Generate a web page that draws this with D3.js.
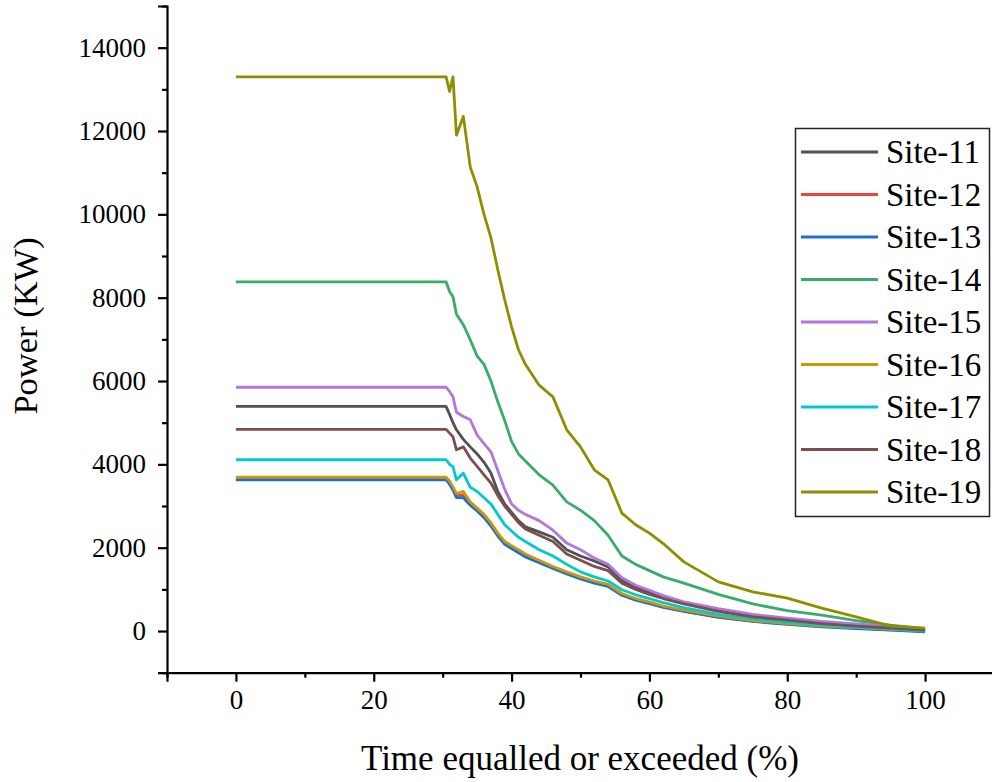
<!DOCTYPE html>
<html>
<head>
<meta charset="utf-8">
<script src="https://cdn.jsdelivr.net/npm/d3@7"></script>
<style>
  body { margin: 0; background: #fff; }
  text { font-family: "Liberation Serif", "Times New Roman", serif; }
</style>
</head>
<body>
<div id="root"></div>
<script>
// time equalled or exceeded (%)
var pct = [0, 30.5, 31, 31.5, 32, 33, 34, 35, 36, 37, 38, 39, 40, 41, 42, 44, 46, 48, 50, 52, 54, 56, 58, 60, 62, 65, 70, 75, 80, 85, 90, 95, 100];

var sites = ["Site-11", "Site-12", "Site-13", "Site-14", "Site-15", "Site-16", "Site-17", "Site-18", "Site-19"];
var colors = ["#515151", "#F14040", "#1A6FDF", "#37AD6B", "#B177DE", "#CC9900", "#00CBCC", "#7D4E4E", "#8E8E00"];

// power (KW) at each pct value
var site11 = [5390, 5390, 5200, 5000, 4830, 4600, 4420, 4250, 4050, 3790, 3350, 3050, 2850, 2650, 2500, 2380, 2250, 1950, 1800, 1680, 1540, 1220, 1050, 940, 820, 680, 500, 370, 280, 200, 140, 80, 20];
var site12 = [3660, 3660, 3560, 3420, 3250, 3270, 3060, 2910, 2760, 2560, 2310, 2110, 2010, 1910, 1810, 1670, 1520, 1390, 1270, 1170, 1090, 880, 760, 680, 580, 480, 340, 240, 170, 110, 70, 30, -10];
var site13 = [3630, 3630, 3520, 3380, 3200, 3200, 3020, 2880, 2720, 2520, 2280, 2080, 1980, 1880, 1780, 1640, 1500, 1370, 1250, 1150, 1070, 860, 740, 660, 570, 470, 330, 230, 160, 100, 60, 20, -20];
var site14 = [8380, 8380, 8150, 8020, 7600, 7350, 6990, 6600, 6400, 6000, 5500, 5050, 4550, 4250, 4080, 3750, 3500, 3100, 2900, 2650, 2300, 1800, 1600, 1450, 1300, 1150, 880, 650, 490, 380, 250, 140, 60];
var site15 = [5850, 5850, 5750, 5620, 5250, 5150, 5070, 4700, 4500, 4300, 3850, 3400, 3050, 2900, 2800, 2650, 2420, 2110, 1950, 1750, 1600, 1280, 1100, 980, 850, 700, 540, 400, 310, 230, 170, 110, 30];
var site16 = [3690, 3690, 3600, 3460, 3300, 3350, 3100, 2950, 2800, 2600, 2350, 2150, 2050, 1950, 1850, 1700, 1550, 1420, 1300, 1200, 1120, 900, 780, 700, 600, 500, 360, 250, 180, 120, 80, 40, 10];
var site17 = [4110, 4110, 4000, 3940, 3630, 3790, 3450, 3350, 3200, 3050, 2800, 2550, 2400, 2250, 2150, 1950, 1800, 1600, 1420, 1300, 1200, 990, 870, 780, 680, 560, 400, 290, 210, 140, 90, 50, 0];
var site18 = [4840, 4840, 4750, 4660, 4350, 4420, 4150, 3950, 3750, 3550, 3250, 3000, 2800, 2600, 2450, 2300, 2150, 1850, 1700, 1550, 1450, 1150, 1000, 880, 780, 650, 470, 340, 260, 180, 120, 70, 20];
var site19 = [13300, 13300, 12950, 13300, 11900, 12350, 11140, 10660, 10000, 9440, 8670, 7950, 7300, 6750, 6400, 5900, 5620, 4830, 4420, 3870, 3630, 2830, 2550, 2350, 2100, 1660, 1180, 940, 790, 550, 340, 120, 70];

var series = [site11, site12, site13, site14, site15, site16, site17, site18, site19];

var xMajor = [0, 20, 40, 60, 80, 100];
var yMajor = [0, 2000, 4000, 6000, 8000, 10000, 12000, 14000];

var width = 992, height = 782;

var svg = d3.select("#root")
    .append("svg")
    .attr("width", width)
    .attr("height", height);

var x = d3.scaleLinear().domain([-10, 110]).range([167, 994]);
var y = d3.scaleLinear().domain([-1000, 15000]).range([672.7, 6]);

// the curves
var line = d3.line()
    .x((d, i) => x(pct[i]))
    .y(d => y(d));

series.forEach(function (s, k) {
    svg.append("path")
        .datum(s)
        .attr("fill", "none")
        .attr("stroke", colors[k])
        .attr("stroke-width", 2.8)
        .attr("stroke-linejoin", "round")
        .attr("d", line);
});

// x axis
var xMinor = d3.range(-10, 111, 10).filter(v => xMajor.indexOf(v) < 0);
var xAxisG = svg.append("g").attr("transform", "translate(0," + y(-1000) + ")");
xAxisG.append("g")
    .call(d3.axisBottom(x).tickValues(xMinor).tickSize(5).tickFormat(""))
    .call(g => g.select(".domain").remove());
xAxisG.append("g")
    .call(d3.axisBottom(x).tickValues(xMajor).tickSize(9).tickPadding(8).tickFormat(d3.format("d")))
    .call(g => g.select(".domain").attr("stroke-width", 2.2));
xAxisG.selectAll("line").attr("stroke-width", 2.2);
xAxisG.selectAll("text")
    .attr("font-family", "Liberation Serif")
    .attr("font-size", 27)
    .attr("fill", "#000");

// y axis
var yMinor = d3.range(-1000, 15001, 1000).filter(v => yMajor.indexOf(v) < 0);
var yAxisG = svg.append("g").attr("transform", "translate(" + x(-10) + ",0)");
yAxisG.append("g")
    .call(d3.axisLeft(y).tickValues(yMinor).tickSize(5).tickFormat(""))
    .call(g => g.select(".domain").remove());
yAxisG.append("g")
    .call(d3.axisLeft(y).tickValues(yMajor).tickSize(9).tickPadding(12).tickFormat(d3.format("d")))
    .call(g => g.select(".domain").attr("stroke-width", 2.2));
yAxisG.selectAll("line").attr("stroke-width", 2.2);
yAxisG.selectAll("text")
    .attr("font-family", "Liberation Serif")
    .attr("font-size", 27)
    .attr("fill", "#000");

// axis titles
svg.append("text")
    .attr("x", 580)
    .attr("y", 770)
    .attr("text-anchor", "middle")
    .attr("font-size", 35)
    .text("Time equalled or exceeded (%)");

svg.append("text")
    .attr("transform", "translate(37,326) rotate(-90)")
    .attr("text-anchor", "middle")
    .attr("font-size", 34.5)
    .text("Power (KW)");

// legend
var legend = svg.append("g");
legend.append("rect")
    .attr("x", 795.5)
    .attr("y", 128.5)
    .attr("width", 194)
    .attr("height", 388)
    .attr("fill", "#fff")
    .attr("stroke", "#222")
    .attr("stroke-width", 1.5);

sites.forEach(function (name, k) {
    var ly = 152 + k * 42.5;
    legend.append("line")
        .attr("x1", 801).attr("x2", 878)
        .attr("y1", ly).attr("y2", ly)
        .attr("stroke", colors[k])
        .attr("stroke-width", 2.8);
    legend.append("text")
        .attr("x", 886)
        .attr("y", ly + 11)
        .attr("font-size", 33)
        .text(name);
});
</script>
</body>
</html>
